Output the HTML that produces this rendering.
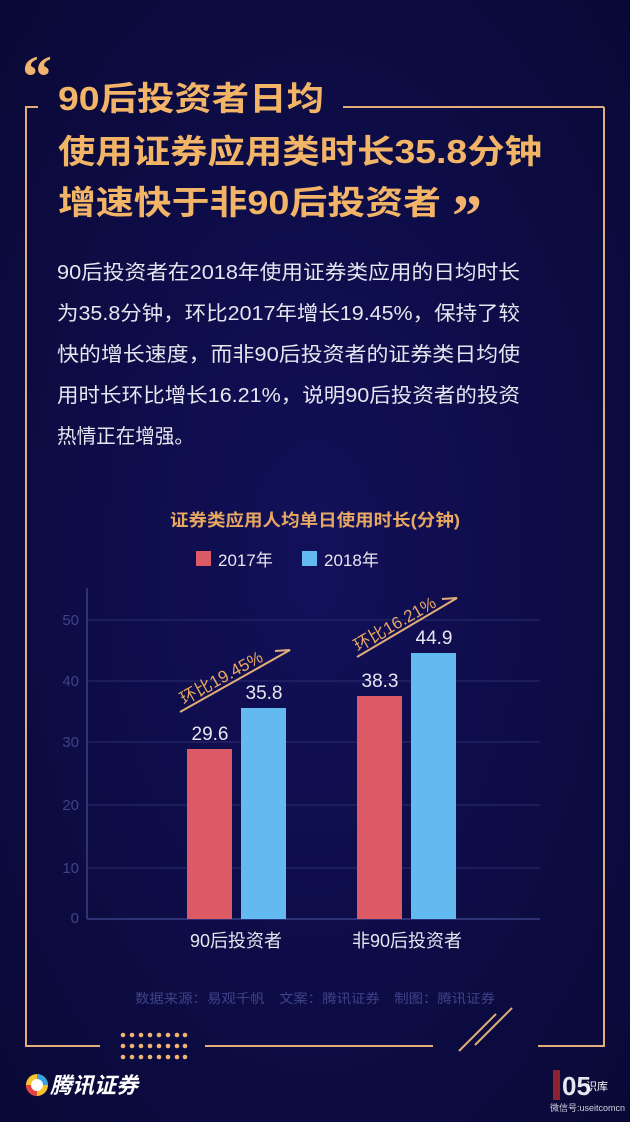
<!DOCTYPE html>
<html><head><meta charset="utf-8"><style>
html,body{margin:0;padding:0;background:#0c0b3e;}
svg{display:block}
</style></head><body>
<svg width="630" height="1122" viewBox="0 0 630 1122" xmlns="http://www.w3.org/2000/svg" font-family="Liberation Sans, Noto Sans CJK SC, sans-serif">
<defs>
<radialGradient id="bg" cx="50%" cy="50%" r="70%">
<stop offset="0" stop-color="#12105a"/><stop offset="1" stop-color="#0a0936"/>
</radialGradient>
</defs>
<rect width="630" height="1122" fill="url(#bg)"/>
<g stroke="#e2ad78" stroke-width="2" fill="none">
<polyline points="38,107 26,107 26,1046 100,1046"/>
<line x1="343" y1="107" x2="604" y2="107"/>
<polyline points="538,1046 604,1046 604,107"/>
<line x1="205" y1="1046" x2="433" y2="1046"/>
<line x1="459" y1="1051" x2="496" y2="1014"/>
<line x1="475" y1="1045" x2="512" y2="1008"/>
</g>
<g fill="#f0b470">
<text x="22" y="97" font-size="60" font-weight="bold" font-family="Liberation Serif, serif">“</text>
<text x="452" y="236" font-size="60" font-weight="bold" font-family="Liberation Serif, serif">”</text>
</g>
<g fill="#f0b470">
<g id="dr">
<circle cx="123" cy="1035" r="2.3"/><circle cx="132" cy="1035" r="2.3"/><circle cx="141" cy="1035" r="2.3"/><circle cx="150" cy="1035" r="2.3"/><circle cx="159" cy="1035" r="2.3"/><circle cx="168" cy="1035" r="2.3"/><circle cx="177" cy="1035" r="2.3"/><circle cx="185" cy="1035" r="2.3"/>
</g>
<use href="#dr" y="11"/><use href="#dr" y="22"/>
</g>
<g fill="#f2b466" font-size="33" font-weight="bold">
<text x="58" y="110" textLength="266" lengthAdjust="spacingAndGlyphs">90后投资者日均</text>
<text x="58" y="163" textLength="484" lengthAdjust="spacingAndGlyphs">使用证券应用类时长35.8分钟</text>
<text x="58" y="214" textLength="383" lengthAdjust="spacingAndGlyphs">增速快于非90后投资者</text>
</g>
<g fill="#e6e6f0" font-size="20">
<text x="57" y="279" textLength="463" lengthAdjust="spacingAndGlyphs">90后投资者在2018年使用证券类应用的日均时长</text>
<text x="57" y="320" textLength="463" lengthAdjust="spacingAndGlyphs">为35.8分钟，环比2017年增长19.45%，保持了较</text>
<text x="57" y="361" textLength="463" lengthAdjust="spacingAndGlyphs">快的增长速度，而非90后投资者的证券类日均使</text>
<text x="57" y="402" textLength="463" lengthAdjust="spacingAndGlyphs">用时长环比增长16.21%，说明90后投资者的投资</text>
<text x="57" y="443" textLength="137" lengthAdjust="spacingAndGlyphs">热情正在增强。</text>
</g>
<text x="315" y="526" fill="#e8a862" font-size="17" font-weight="bold" text-anchor="middle" textLength="290" lengthAdjust="spacingAndGlyphs">证券类应用人均单日使用时长(分钟)</text>
<rect x="196" y="551" width="15" height="15" fill="#dc5a65"/>
<text x="218" y="566" fill="#e6e6f0" font-size="17">2017年</text>
<rect x="302" y="551" width="15" height="15" fill="#63baf0"/>
<text x="324" y="566" fill="#e6e6f0" font-size="17">2018年</text>
<g stroke="#2a2d6e" stroke-width="1">
<line x1="88" y1="620" x2="540" y2="620"/>
<line x1="88" y1="681" x2="540" y2="681"/>
<line x1="88" y1="742" x2="540" y2="742"/>
<line x1="88" y1="805" x2="540" y2="805"/>
<line x1="88" y1="868" x2="540" y2="868"/>
</g>
<line x1="87" y1="588" x2="87" y2="919" stroke="#3a3f85" stroke-width="1.5"/>
<line x1="87" y1="919" x2="540" y2="919" stroke="#3a3f85" stroke-width="1.5"/>
<g fill="#3e4388" font-size="15" text-anchor="end">
<text x="79" y="625">50</text><text x="79" y="686">40</text><text x="79" y="747">30</text>
<text x="79" y="810">20</text><text x="79" y="873">10</text><text x="79" y="923">0</text>
</g>
<rect x="187" y="749" width="45" height="170" fill="#dc5a65"/>
<rect x="241" y="708" width="45" height="211" fill="#63baf0"/>
<rect x="357" y="696" width="45" height="223" fill="#dc5a65"/>
<rect x="411" y="653" width="45" height="266" fill="#63baf0"/>
<g fill="#e6e6f0" font-size="19" text-anchor="middle">
<text x="210" y="740">29.6</text><text x="264" y="699">35.8</text>
<text x="380" y="687">38.3</text><text x="434" y="644">44.9</text>
</g>
<g stroke="#e2ad78" stroke-width="2" fill="none">
<polyline points="180,712 290,650 275,651"/>
<polyline points="357,657 457,598 442,599"/>
</g>
<g fill="#e8a862" font-size="17">
<text x="0" y="0" transform="translate(184,705) rotate(-29)">环比19.45%</text>
<text x="0" y="0" transform="translate(358,652) rotate(-30)">环比16.21%</text>
</g>
<g fill="#e6e6f0" font-size="18" text-anchor="middle">
<text x="236" y="947">90后投资者</text>
<text x="407" y="947">非90后投资者</text>
</g>
<text x="315" y="1003" fill="#3e4388" font-size="13" text-anchor="middle" textLength="360" lengthAdjust="spacingAndGlyphs">数据来源：易观千帆　文案：腾讯证券　制图：腾讯证券</text>
<circle cx="37" cy="1085" r="11" fill="#f5c32c"/>
<path d="M37 1074 A11 11 0 0 1 48 1085 L37 1085 Z" fill="#3aa0e0"/>
<path d="M26 1085 A11 11 0 0 0 37 1096 L37 1085 Z" fill="#e84040"/>
<circle cx="37" cy="1085" r="6" fill="#ffffff"/>
<text x="50" y="1093" fill="#ffffff" font-size="22" font-weight="bold" font-style="italic">腾讯证券</text>
<rect x="553" y="1070" width="7" height="30" fill="#8a2230"/>
<text x="562" y="1095" fill="#e6e6f0" font-size="26" font-weight="bold">05</text>
<text x="586" y="1090" fill="#ffffff" font-size="11">识库</text>
<text x="550" y="1111" fill="#cfd0dc" font-size="9">微信号:useitcomcn</text>
</svg>
</body></html>
